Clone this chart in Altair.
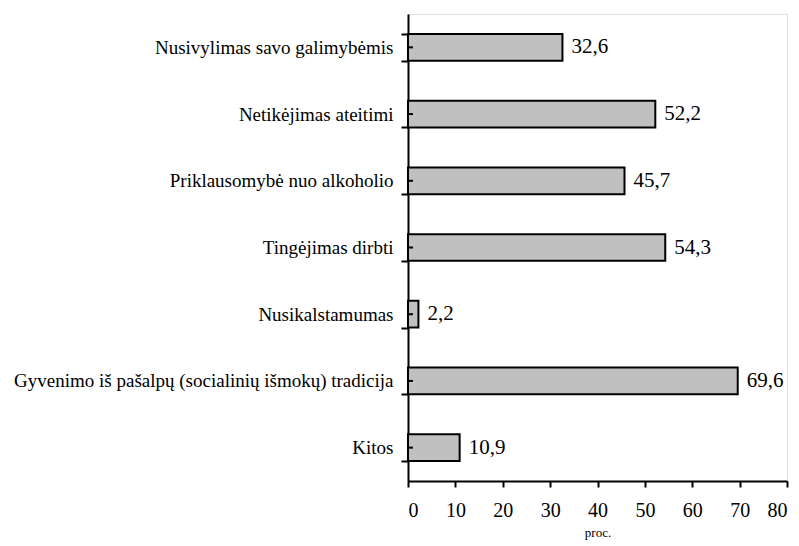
import altair as alt
import pandas as pd

categories = [
    "Nusivylimas savo galimybėmis",
    "Netikėjimas ateitimi",
    "Priklausomybė nuo alkoholio",
    "Tingėjimas dirbti",
    "Nusikalstamumas",
    "Gyvenimo iš pašalpų (socialinių išmokų) tradicija",
    "Kitos",
]
values = [32.6, 52.2, 45.7, 54.3, 2.2, 69.6, 10.9]
x_ticks = [0, 10, 20, 30, 40, 50, 60, 70, 80]

df = pd.DataFrame({"cat": categories, "v": values})
FONT = "Liberation Serif, 'Times New Roman', serif"

y_enc = alt.Y(
    "cat:N",
    sort=categories,
    scale=alt.Scale(paddingInner=0.6, paddingOuter=0.3),
    axis=alt.Axis(
        title=None,
        tickBand="extent",
        tickSize=7,
        tickWidth=2,
        tickColor="black",
        domainColor="black",
        domainWidth=2,
        labelFont=FONT,
        labelFontSize=19,
        labelColor="black",
        labelPadding=8,
        labelLimit=0,
    ),
)

base = alt.Chart(df)

bars = base.mark_bar(fill="#c0c0c0", stroke="black", strokeWidth=2).encode(
    x=alt.X(
        "v:Q",
        scale=alt.Scale(domain=[0, 80], nice=False),
        axis=alt.Axis(
            values=x_ticks,
            title="proc.",
            titleFont=FONT,
            titleFontSize=13,
            titleFontWeight="normal",
            titleColor="black",
            titlePadding=6,
            grid=False,
            tickSize=6,
            tickWidth=2,
            tickColor="black",
            domainColor="black",
            domainWidth=2,
            labelFont=FONT,
            labelFontSize=20,
            labelColor="black",
            labelPadding=13,
        ),
    ),
    y=y_enc,
)

inner_ticks = base.mark_rule(color="black", strokeWidth=2).encode(
    y=alt.Y("cat:N", sort=categories),
    x=alt.value(0),
    x2=alt.value(5),
)

labels = base.transform_calculate(
    lab="replace(format(datum.v, '.1f'), '.', ',')"
).mark_text(
    align="left", baseline="middle", dx=9, font=FONT, fontSize=21, color="black"
).encode(
    x="v:Q",
    y=alt.Y("cat:N", sort=categories),
    text="lab:N",
)

chart = (
    alt.layer(bars, inner_ticks, labels)
    .properties(
        width=379,
        height=467,
        autosize="none",
        padding={"left": 400, "top": 6, "right": 4, "bottom": 60},
    )
    .configure_view(stroke=None)
    .configure(background="white", font=FONT)
)

chart.save("out.html", embed_options={"renderer": "svg", "actions": False})
